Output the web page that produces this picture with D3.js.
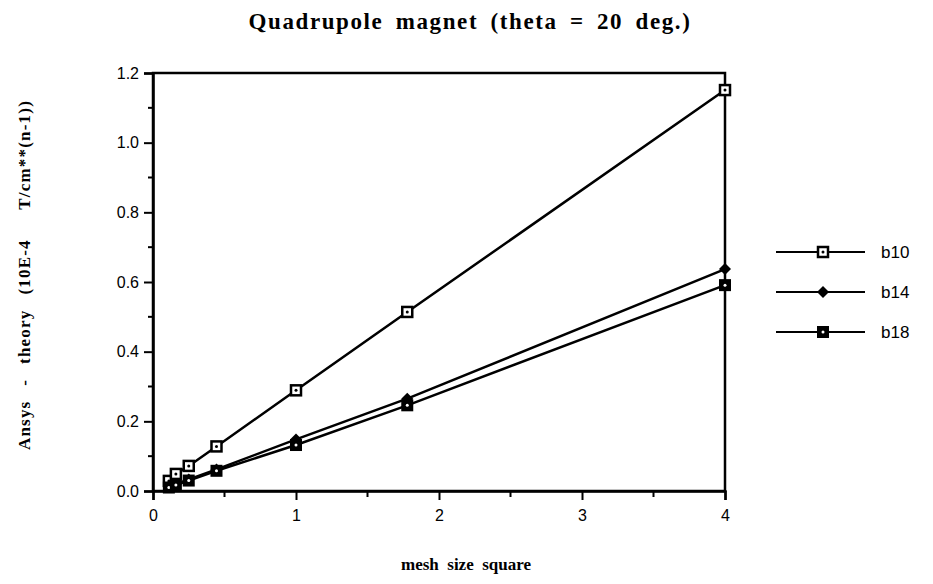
<!DOCTYPE html>
<html>
<head>
<meta charset="utf-8">
<script src="https://cdn.jsdelivr.net/npm/d3@7"></script>
<style>
  body { margin: 0; background: #fff; }
  svg { display: block; }
</style>
</head>
<body>
<div id="chart"></div>
<script>
// data
const meshSq = [0.111, 0.16, 0.25, 0.444, 1, 1.778, 4];
const b10 = [0.029, 0.049, 0.072, 0.128, 0.289, 0.514, 1.151];
const b14 = [0.013, 0.020, 0.033, 0.062, 0.148, 0.265, 0.637];
const b18 = [0.010, 0.017, 0.030, 0.058, 0.132, 0.246, 0.591];
const seriesNames = ["b10", "b14", "b18"];
const xTicks = [0, 1, 2, 3, 4];
const yTicks = [0, 0.2, 0.4, 0.6, 0.8, 1.0, 1.2];

const width = 933, height = 584;
const svg = d3.select("#chart").append("svg")
  .attr("width", width).attr("height", height);

const x = d3.scaleLinear().domain([0, 4]).range([153, 725]);
const y = d3.scaleLinear().domain([0, 1.2]).range([491, 73]);

const sans = "Liberation Sans, Arial, sans-serif";
const serif = "Liberation Serif, Times New Roman, serif";

// frame
svg.append("rect")
  .attr("x", x(0)).attr("y", y(1.2))
  .attr("width", x(4) - x(0)).attr("height", y(0) - y(1.2))
  .attr("fill", "none").attr("stroke", "#000").attr("stroke-width", 2.5);

// y axis
const yAxis = d3.axisLeft(y).tickValues(yTicks).tickFormat(d3.format(".1f")).tickSize(9).tickPadding(5);
const gy = svg.append("g").attr("transform", `translate(${x(0)},0)`).call(yAxis);
gy.append("g").selectAll("line")
  .data(d3.range(0.1, 1.2, 0.2)).enter().append("line")
  .attr("x1", 0).attr("x2", -5).attr("y1", d => y(d)).attr("y2", d => y(d))
  .attr("stroke", "#000").attr("stroke-width", 2);

// x axis
const xAxis = d3.axisBottom(x).tickValues(xTicks).tickFormat(d3.format("d")).tickSize(9).tickPadding(10);
const gx = svg.append("g").attr("transform", `translate(0,${y(0)})`).call(xAxis);
gx.append("g").selectAll("line")
  .data([0.5, 1.5, 2.5, 3.5]).enter().append("line")
  .attr("x1", d => x(d)).attr("x2", d => x(d)).attr("y1", 0).attr("y2", 6)
  .attr("stroke", "#000").attr("stroke-width", 2);

[gx, gy].forEach(g => {
  g.select(".domain").attr("stroke", "#000").attr("stroke-width", 2.5);
  g.selectAll(".tick line").attr("stroke", "#000").attr("stroke-width", 2);
  g.selectAll(".tick text").attr("font-family", sans).attr("font-size", 16).attr("fill", "#000");
});

// series
const seriesData = [b10, b14, b18].map((vals, i) => ({
  name: seriesNames[i],
  pts: vals.map((v, j) => ({ x: meshSq[j], y: v }))
}));

const line = d3.line().x(d => x(d.x)).y(d => y(d.y));

svg.selectAll(".series").data(seriesData).enter().append("path")
  .attr("d", d => line(d.pts))
  .attr("fill", "none").attr("stroke", "#000").attr("stroke-width", 2.5);

function drawMarker(g, name) {
  if (name === "b10") {
    g.append("rect").attr("x", -5).attr("y", -5).attr("width", 10).attr("height", 10)
      .attr("fill", "#fff").attr("stroke", "#000").attr("stroke-width", 2.5);
    g.append("circle").attr("r", 1.5).attr("fill", "#000");
  } else if (name === "b14") {
    g.append("path").attr("d", "M0,-6L6,0L0,6L-6,0Z").attr("fill", "#000");
  } else {
    g.append("rect").attr("x", -6).attr("y", -6).attr("width", 12).attr("height", 12)
      .attr("fill", "#000");
    g.append("circle").attr("r", 1.5).attr("fill", "#fff");
  }
}

seriesData.forEach(s => {
  s.pts.forEach(p => {
    const g = svg.append("g").attr("transform", `translate(${x(p.x)},${y(p.y)})`);
    drawMarker(g, s.name);
  });
});

// legend
const legY = [252, 292, 332];
seriesNames.forEach((name, i) => {
  const g = svg.append("g").attr("transform", `translate(776,${legY[i]})`);
  g.append("line").attr("x1", 0).attr("x2", 89).attr("y1", 0).attr("y2", 0)
    .attr("stroke", "#000").attr("stroke-width", 2);
  const m = g.append("g").attr("transform", "translate(47,0)");
  drawMarker(m, name);
  g.append("text").attr("x", 105).attr("y", 6).text(name)
    .attr("font-family", sans).attr("font-size", 17).attr("fill", "#000");
});

// titles
svg.append("text").attr("x", 470).attr("y", 29).attr("text-anchor", "middle")
  .attr("font-family", serif).attr("font-weight", "bold").attr("font-size", 23)
  .attr("letter-spacing", 1.6).attr("word-spacing", 5)
  .text("Quadrupole magnet (theta = 20 deg.)");

svg.append("text").attr("x", 466).attr("y", 570).attr("text-anchor", "middle")
  .attr("font-family", serif).attr("font-weight", "bold").attr("font-size", 17)
  .attr("style", "white-space:pre")
  .text("mesh  size  square");

svg.append("text")
  .attr("transform", "translate(30,275) rotate(-90)")
  .attr("text-anchor", "middle")
  .attr("font-family", serif).attr("font-weight", "bold").attr("font-size", 17)
  .attr("letter-spacing", 1.2).attr("word-spacing", 2)
  .attr("style", "white-space:pre")
  .text("Ansys  -  theory  (10E-4    T/cm**(n-1))");
</script>
</body>
</html>
